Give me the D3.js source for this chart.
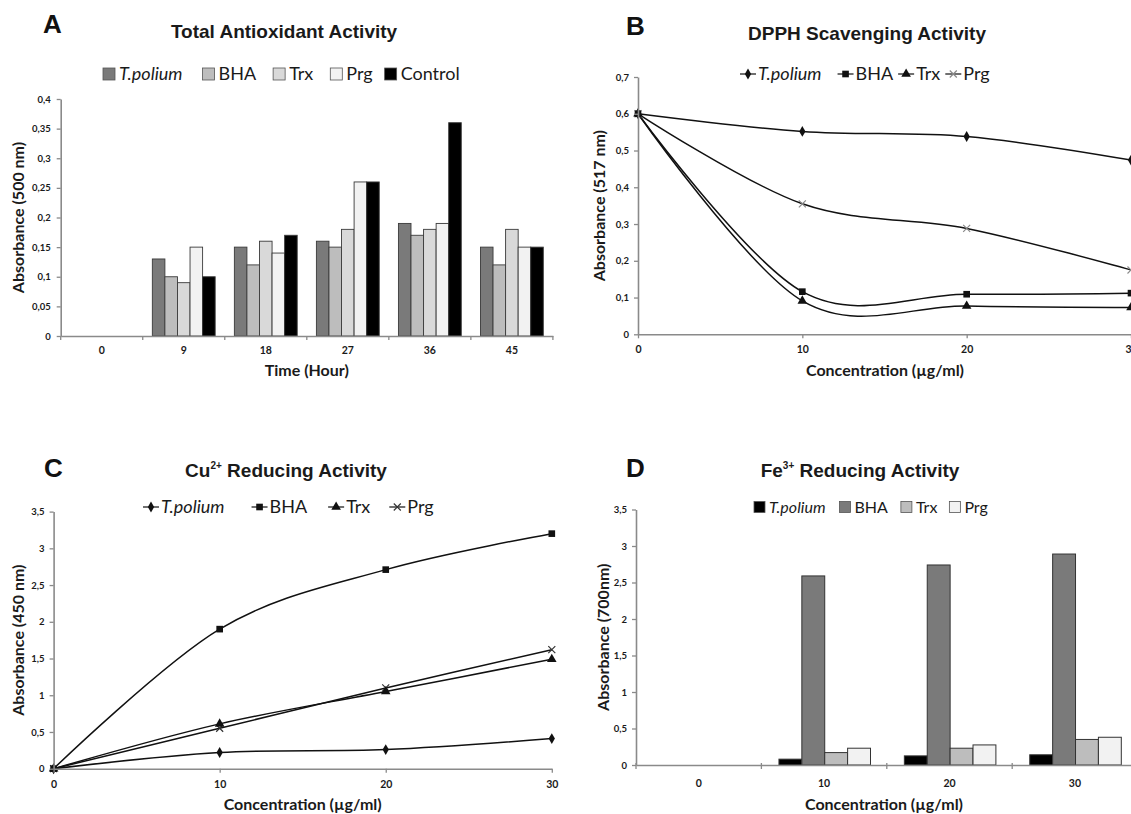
<!DOCTYPE html>
<html><head><meta charset="utf-8">
<script src="https://cdn.jsdelivr.net/npm/d3@7"></script>
<style>body{margin:0;background:#fff} svg{display:block}</style>
</head><body><svg id="c" width="1131" height="814"></svg>
<script>
// ---------- DATA ----------
const timeA = ["0","9","18","27","36","45"];
const seriesA = ["T.polium","BHA","Trx","Prg","Control"];
const tpoliumA = [0,0.13,0.15,0.16,0.19,0.15];
const bhaA     = [0,0.10,0.12,0.15,0.17,0.12];
const trxA     = [0,0.09,0.16,0.18,0.18,0.18];
const prgA     = [0,0.15,0.14,0.26,0.19,0.15];
const controlA = [0,0.10,0.17,0.26,0.36,0.15];
const yTicksA  = [0,0.05,0.1,0.15,0.2,0.25,0.3,0.35,0.4];

const seriesLines = ["T.polium","BHA","Trx","Prg"];
const concBC = [0,10,20,30];
const tpoliumB = [0.6,0.552,0.538,0.474];
const bhaB     = [0.6,0.116,0.109,0.112];
const trxB     = [0.6,0.091,0.077,0.073];
const prgB     = [0.6,0.355,0.288,0.175];
const yTicksB  = [0,0.1,0.2,0.3,0.4,0.5,0.6,0.7];

const tpoliumC = [0,0.22,0.26,0.41];
const bhaC     = [0,1.9,2.71,3.2];
const trxC     = [0,0.61,1.05,1.49];
const prgC     = [0,0.55,1.1,1.62];
const yTicksCD = [0,0.5,1,1.5,2,2.5,3,3.5];

const concD = ["0","10","20","30"];
const seriesD = ["T.polium","BHA","Trx","Prg"];
const tpoliumD = [0,0.08,0.125,0.14];
const bhaD     = [0,2.59,2.74,2.89];
const trxD     = [0,0.17,0.23,0.35];
const prgD     = [0,0.23,0.275,0.38];

// ---------- STYLE ----------
const svg = d3.select("#c");
const FONT = "Lato, 'Open Sans', sans-serif";
const TFONT = "'Liberation Sans', Arial, sans-serif";
const AXC = "#8a8a8a";
const fmt = d => String(d).replace(".", ",");

function styleAxis(g, fs) {
  g.select(".domain").attr("stroke", AXC).attr("stroke-width", 1.6);
  g.selectAll(".tick line").attr("stroke", AXC).attr("stroke-width", 1.3);
  g.selectAll(".tick text").attr("font-family", FONT).attr("font-weight", 700)
    .attr("font-size", fs || 10).attr("fill", "#1a1a1a");
}

function header(letter, lx, ly, parts, tx, ty) {
  svg.append("text").attr("x", lx).attr("y", ly).text(letter)
    .attr("font-family", TFONT).attr("font-weight", 700).attr("font-size", 26).attr("fill", "#111");
  const t = svg.append("text").attr("x", tx).attr("y", ty).attr("text-anchor", "middle")
    .attr("font-family", TFONT).attr("font-weight", 700).attr("font-size", 19).attr("fill", "#1a1a1a");
  parts.forEach(p => {
    const ts = t.append("tspan").text(p.t);
    if (p.sup) ts.attr("font-size", 10).attr("dy", -8);
    if (p.after) ts.attr("dy", 8);
  });
}

function axisTitles(xt, xx, xy, yt, yx, yy) {
  svg.append("text").attr("x", xx).attr("y", xy).attr("text-anchor", "middle").text(xt)
    .attr("font-family", FONT).attr("font-weight", 700).attr("font-size", 16).attr("fill", "#1a1a1a");
  svg.append("text").attr("transform", `translate(${yx},${yy}) rotate(-90)`).attr("text-anchor", "middle").text(yt)
    .attr("font-family", FONT).attr("font-weight", 700).attr("font-size", 16).attr("fill", "#1a1a1a");
}

function squareLegend(x0, yc, names, fills, fs, box, spacings) {
  let x = x0;
  names.forEach((n, i) => {
    svg.append("rect").attr("x", x).attr("y", yc - box / 2).attr("width", box).attr("height", box)
      .attr("fill", fills[i]).attr("stroke", "#555").attr("stroke-width", 0.8);
    const t = svg.append("text").attr("x", x + box + 4).attr("y", yc + fs * 0.36).text(n)
      .attr("font-family", FONT).attr("font-size", fs).attr("fill", "#1a1a1a")
      .attr("font-style", i === 0 ? "italic" : "normal");
    x += box + 4 + t.node().getComputedTextLength() + (spacings[i] || 0);
  });
}

function markerPath(type, s) {
  if (type === "x") return `M${-s},${-s}L${s},${s}M${-s},${s}L${s},${-s}`;
  const map = {diamond: [d3.symbolDiamond, 34], square: [d3.symbolSquare, 44], triangle: [d3.symbolTriangle, 40]};
  return d3.symbol().type(map[type][0]).size(map[type][1])();
}
const markerTypes = ["diamond", "square", "triangle", "x"];

function drawMarker(g, type, x, y, xcol) {
  if (type === "x") {
    g.append("path").attr("d", markerPath("x", 3.5)).attr("transform", `translate(${x},${y})`)
      .attr("fill", "none").attr("stroke", xcol).attr("stroke-width", 1.2);
  } else {
    g.append("path").attr("d", markerPath(type)).attr("transform", `translate(${x},${y})`).attr("fill", "#111");
  }
}

function lineLegend(x0, yc, names, fs, spacings, xcol) {
  let x = x0;
  names.forEach((n, i) => {
    svg.append("line").attr("x1", x).attr("x2", x + 16).attr("y1", yc).attr("y2", yc)
      .attr("stroke", "#222").attr("stroke-width", 1.3);
    drawMarker(svg, markerTypes[i], x + 8, yc, xcol);
    const t = svg.append("text").attr("x", x + 18).attr("y", yc + fs * 0.36).text(n)
      .attr("font-family", FONT).attr("font-size", fs).attr("fill", "#1a1a1a")
      .attr("font-style", i === 0 ? "italic" : "normal");
    x += 18 + t.node().getComputedTextLength() + (spacings[i] || 0);
  });
}

// ---------- PANEL A ----------
(function () {
  const xA = d3.scaleBand().domain(timeA).range([60.7, 552.9]);
  const yA = d3.scaleLinear().domain([0, 0.4]).range([336, 99]);
  const bw = xA.bandwidth();
  const inner = d3.scaleBand().domain(seriesA).range([bw * 0.117, bw * 0.883]);
  const vals = [tpoliumA, bhaA, trxA, prgA, controlA];
  const cols = ["#7a7a7a", "#bdbdbd", "#d9d9d9", "#f2f2f2", "#000000"];
  const g = svg.append("g");
  seriesA.forEach((s, i) => {
    g.selectAll(null).data(timeA.map((t, j) => ({t, v: vals[i][j]})).filter(d => d.v > 0)).join("rect")
      .attr("x", d => xA(d.t) + inner(s)).attr("width", inner.bandwidth())
      .attr("y", d => yA(d.v)).attr("height", d => yA(0) - yA(d.v))
      .attr("fill", cols[i]).attr("stroke", "#3a3a3a").attr("stroke-width", 0.9);
  });
  const ay = svg.append("g").attr("transform", `translate(${xA.range()[0]},0)`)
    .call(d3.axisLeft(yA).tickValues(yTicksA).tickFormat(fmt).tickSizeInner(4).tickSizeOuter(0).tickPadding(6));
  styleAxis(ay, 9.5);
  const ax = svg.append("g").attr("transform", `translate(0,${yA(0)})`)
    .call(d3.axisBottom(xA).tickSize(0).tickPadding(11));
  styleAxis(ax, 10.5);
  const bounds = timeA.map(t => xA(t)).concat([xA.range()[1]]);
  svg.selectAll(null).data(bounds).join("line").attr("x1", d => d).attr("x2", d => d)
    .attr("y1", yA(0)).attr("y2", yA(0) + 4).attr("stroke", AXC).attr("stroke-width", 1.3);
  header("A", 43, 33, [{t: "Total Antioxidant Activity"}], 284, 37.5);
  squareLegend(103, 74, seriesA, cols, 18, 12, [20, 17, 17, 12]);
  axisTitles("Time (Hour)", (xA.range()[0] + xA.range()[1]) / 2, 376, "Absorbance (500 nm)", 24, (yA(0) + yA(0.4)) / 2);
})();

// ---------- PANEL B ----------
(function () {
  const xB = d3.scaleLinear().domain([0, 30]).range([638, 1131]);
  const yB = d3.scaleLinear().domain([0, 0.7]).range([334.3, 77]);
  const vals = [tpoliumB, bhaB, trxB, prgB];
  const g = svg.append("g");
  vals.forEach(v => {
    const l = d3.line().x((d, i) => xB(concBC[i])).y(d => yB(d)).curve(d3.curveCardinal.tension(0));
    g.append("path").attr("d", l(v)).attr("fill", "none").attr("stroke", "#111").attr("stroke-width", 1.5);
  });
  [0, 3, 2, 1].forEach(si => vals[si].forEach((d, i) => drawMarker(g, markerTypes[si], xB(concBC[i]), yB(d), "#8a8a8a")));
  const ay = svg.append("g").attr("transform", `translate(${xB(0)},0)`)
    .call(d3.axisLeft(yB).tickValues(yTicksB).tickFormat(fmt).tickSizeInner(4).tickSizeOuter(0).tickPadding(5));
  styleAxis(ay, 9.5);
  const ax = svg.append("g").attr("transform", `translate(0,${yB(0)})`)
    .call(d3.axisBottom(xB).tickValues(concBC).tickFormat(d => d).tickSizeInner(4).tickSizeOuter(0).tickPadding(7));
  styleAxis(ax, 10.5);
  header("B", 626, 35, [{t: "DPPH Scavenging Activity"}], 867, 39.5);
  lineLegend(740, 74, seriesLines, 18, [16, 5, 5], "#8a8a8a");
  axisTitles("Concentration (µg/ml)", 885, 376, "Absorbance (517 nm)", 605, (yB(0) + yB(0.7)) / 2);
})();

// ---------- PANEL C ----------
(function () {
  const xC = d3.scaleLinear().domain([0, 30]).range([53.6, 551.8]);
  const yC = d3.scaleLinear().domain([0, 3.5]).range([768.7, 511.6]);
  const vals = [tpoliumC, bhaC, trxC, prgC];
  const g = svg.append("g");
  vals.forEach(v => {
    const l = d3.line().x((d, i) => xC(concBC[i])).y(d => yC(d)).curve(d3.curveCardinal.tension(0));
    g.append("path").attr("d", l(v)).attr("fill", "none").attr("stroke", "#111").attr("stroke-width", 1.5);
  });
  [0, 3, 2, 1].forEach(si => vals[si].forEach((d, i) => drawMarker(g, markerTypes[si], xC(concBC[i]), yC(d), "#333")));
  const ay = svg.append("g").attr("transform", `translate(${xC(0)},0)`)
    .call(d3.axisLeft(yC).tickValues(yTicksCD).tickFormat(fmt).tickSizeInner(4).tickSizeOuter(0).tickPadding(5));
  styleAxis(ay, 9.5);
  const ax = svg.append("g").attr("transform", `translate(0,${yC(0)})`)
    .call(d3.axisBottom(xC).tickValues(concBC).tickFormat(d => d).tickSizeInner(4).tickSizeOuter(0).tickPadding(8));
  styleAxis(ax, 10.5);
  header("C", 44, 477, [{t: "Cu"}, {t: "2+", sup: true}, {t: " Reducing Activity", after: true}], 286, 477);
  lineLegend(143, 507, seriesLines, 18, [27, 21, 19], "#333");
  axisTitles("Concentration (µg/ml)", (xC.range()[0] + xC.range()[1]) / 2, 810, "Absorbance (450 nm)", 24, (yC(0) + yC(3.5)) / 2);
})();

// ---------- PANEL D ----------
(function () {
  const xD = d3.scaleBand().domain(concD).range([636, 1137.6]);
  const yD = d3.scaleLinear().domain([0, 3.5]).range([765, 509.5]);
  const bw = xD.bandwidth();
  const inner = d3.scaleBand().domain(seriesD).range([bw * 0.14, bw * 0.87]);
  const vals = [tpoliumD, bhaD, trxD, prgD];
  const cols = ["#000000", "#7a7a7a", "#bdbdbd", "#f2f2f2"];
  const g = svg.append("g");
  seriesD.forEach((s, i) => {
    g.selectAll(null).data(concD.map((t, j) => ({t, v: vals[i][j]})).filter(d => d.v > 0)).join("rect")
      .attr("x", d => xD(d.t) + inner(s)).attr("width", inner.bandwidth())
      .attr("y", d => yD(d.v)).attr("height", d => yD(0) - yD(d.v))
      .attr("fill", cols[i]).attr("stroke", "#333").attr("stroke-width", 1);
  });
  const ay = svg.append("g").attr("transform", `translate(${xD.range()[0]},0)`)
    .call(d3.axisLeft(yD).tickValues(yTicksCD).tickFormat(fmt).tickSizeInner(4).tickSizeOuter(0).tickPadding(5));
  styleAxis(ay, 9.5);
  const ax = svg.append("g").attr("transform", `translate(0,${yD(0)})`)
    .call(d3.axisBottom(xD).tickSize(0).tickPadding(15));
  styleAxis(ax, 10.5);
  const bounds = concD.map(t => xD(t)).concat([xD.range()[1]]);
  svg.selectAll(null).data(bounds).join("line").attr("x1", d => d).attr("x2", d => d)
    .attr("y1", yD(0) - 2).attr("y2", yD(0) + 4).attr("stroke", AXC).attr("stroke-width", 1.3);
  header("D", 626, 477, [{t: "Fe"}, {t: "3+", sup: true}, {t: " Reducing Activity", after: true}], 860, 477);
  squareLegend(754, 507, seriesD, cols, 16, 11, [14, 13, 12]);
  axisTitles("Concentration (µg/ml)", 884, 810, "Absorbance (700nm)", 609, (yD(0) + yD(3.5)) / 2);
})();
</script>
</body></html>
